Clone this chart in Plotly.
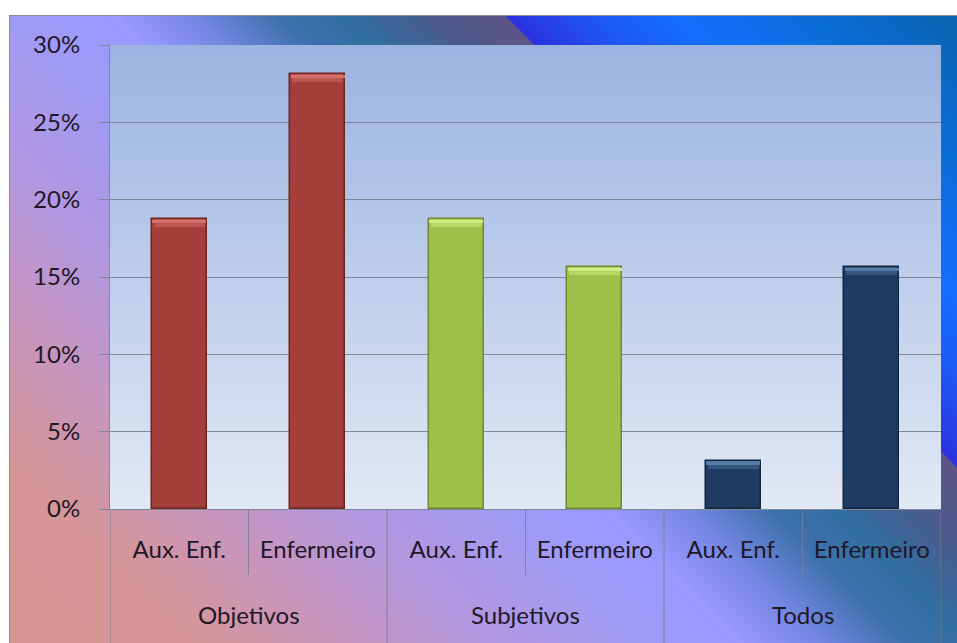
import base64
import struct
import zlib

import numpy as np
import plotly.graph_objects as go

# ---- data -------------------------------------------------------------
groups = ["Objetivos", "Objetivos", "Subjetivos", "Subjetivos", "Todos", "Todos"]
subs = ["Aux. Enf.", "Enfermeiro", "Aux. Enf.", "Enfermeiro", "Aux. Enf.", "Enfermeiro"]
values = [0.1875, 0.28125, 0.1875, 0.15625, 0.03125, 0.15625]
y_ticks = [0.0, 0.05, 0.10, 0.15, 0.20, 0.25, 0.30]

# ---- look -------------------------------------------------------------
W, H = 957, 643
L, R, T, B = 110, 16, 45, 134
PW, PH = W - L - R, H - T - B
FONT = "Lato"
FSIZE = 24
TEXT = "#1f1828"
GRID = "#7e889a"
DIV = "rgba(125,125,150,0.85)"

group_fill = {"Objetivos": "#a33e3a", "Subjetivos": "#9cc048", "Todos": "#1f3b63"}
group_edge = {"Objetivos": "#6e2522", "Subjetivos": "#6e8a2c", "Todos": "#112740"}
group_top = {"Objetivos": "#d4716a", "Subjetivos": "#cfeb86", "Todos": "#557aa6"}
group_mid = {"Objetivos": "#bb5750", "Subjetivos": "#b5d764", "Todos": "#35577f"}


def png_uri(arr):
    """Encode an HxWx3 uint8 array as a PNG data URI."""
    h, w, _ = arr.shape
    raw = b"".join(b"\x00" + arr[i].tobytes() for i in range(h))

    def chunk(tag, data):
        return (struct.pack(">I", len(data)) + tag + data
                + struct.pack(">I", zlib.crc32(tag + data) & 0xFFFFFFFF))

    png = (b"\x89PNG\r\n\x1a\n"
           + chunk(b"IHDR", struct.pack(">IIBBBBB", w, h, 8, 2, 0, 0, 0))
           + chunk(b"IDAT", zlib.compress(raw, 9))
           + chunk(b"IEND", b""))
    return "data:image/png;base64," + base64.b64encode(png).decode()


# Diagonal multi-stop backdrop of the chart frame (runs along x - y).
stop_t = [-634, -450, -300, -150, 0, 100, 180, 260, 330, 420, 488, 491, 580, 660, 800, 941]
stop_c = [(216, 150, 146), (214, 150, 152), (200, 150, 190), (178, 152, 225),
          (160, 155, 245), (153, 153, 255), (115, 135, 225), (62, 114, 175),
          (50, 110, 160), (78, 90, 140), (95, 85, 135), (45, 50, 225),
          (30, 90, 245), (20, 110, 255), (10, 110, 215), (10, 100, 175)]
yy, xx = np.mgrid[0:H, 0:W]
tt = (xx - yy).astype(float)
page = np.zeros((H, W, 3), dtype=np.uint8)
for ch in range(3):
    page[..., ch] = np.interp(tt, stop_t, [c[ch] for c in stop_c]).astype(np.uint8)
fx, fy = 9, 15
page[:fy, :] = 255
page[:, :fx] = 255
page[fy, fx:] = (140, 140, 150)
page[fy:, fx] = (140, 140, 150)

# Vertical wash behind the bars.
n = 256
s = np.linspace(0, 1, n)[:, None]
top_c = np.array([155, 180, 225])
bot_c = np.array([226, 233, 246])
wash = (top_c * (1 - s) + bot_c * s).astype(np.uint8)
wash = np.repeat(wash[:, None, :], 4, axis=1)

xpos = list(range(len(values)))
bar_w = 0.4
px = 0.3 / PH  # one pixel in axis units

fig = go.Figure()
fig.add_trace(go.Bar(
    x=xpos, y=values, width=bar_w,
    marker=dict(color=[group_fill[g] for g in groups],
                line=dict(color=[group_edge[g] for g in groups], width=1.5)),
    hoverinfo="skip", showlegend=False,
))
# Bevel highlight along each bar top: a soft band and a brighter rim.
fig.add_trace(go.Bar(
    x=xpos, y=[8 * px] * len(values), base=[v - 8 * px for v in values],
    width=bar_w - 0.03,
    marker=dict(color=[group_mid[g] for g in groups], line=dict(width=0)),
    hoverinfo="skip", showlegend=False,
))
fig.add_trace(go.Bar(
    x=xpos, y=[3.5 * px] * len(values), base=[v - 4 * px for v in values],
    width=bar_w - 0.01,
    marker=dict(color=[group_top[g] for g in groups], line=dict(width=0)),
    hoverinfo="skip", showlegend=False,
))

# Group labels and dividers
group_names = list(dict.fromkeys(groups))
bounds = [-0.5]
for g in group_names:
    idx = [i for i, gg in enumerate(groups) if gg == g]
    fig.add_annotation(x=sum(idx) / len(idx), y=0, xref="x", yref="paper",
                       yanchor="middle", yshift=-105, showarrow=False,
                       text=g, font=dict(family=FONT, size=FSIZE, color=TEXT))
    bounds.append(idx[-1] + 0.5)
    for k in idx[:-1]:
        fig.add_shape(type="line", xref="x", yref="paper", ysizemode="pixel",
                      yanchor=0, x0=k + 0.5, x1=k + 0.5, y0=0, y1=-66,
                      line=dict(color=DIV, width=1))
for bx in bounds:
    fig.add_shape(type="line", xref="x", yref="paper", ysizemode="pixel",
                  yanchor=0, x0=bx, x1=bx, y0=0, y1=-B,
                  line=dict(color=DIV, width=1))

fig.add_layout_image(dict(source=png_uri(page), xref="paper", yref="paper",
                          x=-L / PW, y=1 + T / PH, sizex=W / PW, sizey=H / PH,
                          xanchor="left", yanchor="top", sizing="stretch",
                          layer="below"))
fig.add_layout_image(dict(source=png_uri(wash), xref="x domain", yref="y domain",
                          x=0, y=1, sizex=1, sizey=1, xanchor="left",
                          yanchor="top", sizing="stretch", layer="below"))

fig.update_layout(
    width=W, height=H,
    margin=dict(l=L, r=R, t=T, b=B, pad=0),
    paper_bgcolor="white", plot_bgcolor="rgba(0,0,0,0)",
    barmode="overlay", bargap=0,
    font=dict(family=FONT, size=FSIZE, color=TEXT),
    xaxis=dict(range=[-0.5, len(values) - 0.5], tickvals=xpos, ticktext=subs,
               showgrid=False, zeroline=False, ticks="", showline=True,
               linecolor=GRID, linewidth=1, ticklabelstandoff=19,
               tickfont=dict(family=FONT, size=FSIZE, color=TEXT), fixedrange=True),
    yaxis=dict(range=[0, 0.30], tickvals=y_ticks, tickformat=".0%",
               showgrid=True, gridcolor=GRID, gridwidth=1, zeroline=False,
               ticks="outside", ticklen=10, tickcolor=GRID, showline=True,
               linecolor=DIV, ticklabelstandoff=14,
               tickfont=dict(family=FONT, size=FSIZE, color=TEXT), fixedrange=True),
)

fig.write_html("out.html", config={"displayModeBar": False})
